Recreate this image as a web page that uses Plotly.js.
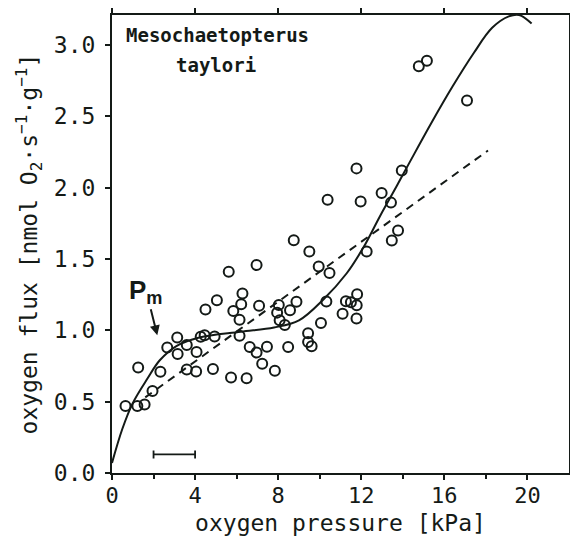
<!DOCTYPE html>
<html>
<head>
<meta charset="utf-8">
<script src="https://cdn.plot.ly/plotly-3.0.1.min.js"></script>
<style>html,body{margin:0;padding:0;background:#fff;}#chart{width:570px;height:536px;}</style>
</head>
<body>
<div id="chart"></div>
<script>
// measured points: oxygen pressure [kPa] and oxygen flux
const pressure = [0.65,1.22,1.57,1.26,1.95,2.33,2.66,3.14,3.16,3.6,3.6,4.05,4.07,4.27,4.46,4.5,4.94,4.86,5.05,5.62,5.73,5.84,6.14,6.22,6.28,6.14,6.48,6.63,6.96,7.08,6.96,7.23,7.46,7.84,7.95,8.03,8.07,8.32,8.48,8.57,8.75,8.88,9.5,9.44,9.44,9.61,9.95,10.06,10.32,10.47,10.38,11.1,11.26,11.5,11.8,11.78,11.77,11.77,11.97,12.26,12.98,13.43,13.47,13.77,13.95,14.77,15.16,17.09];
const flux = [0.47,0.47,0.48,0.74,0.575,0.71,0.88,0.95,0.834,0.897,0.725,0.712,0.848,0.955,0.966,1.146,0.956,0.729,1.21,1.41,0.67,1.135,1.074,1.183,1.258,0.962,0.664,0.883,1.458,1.172,0.845,0.765,0.885,0.717,1.124,1.178,1.07,1.037,0.883,1.14,1.632,1.2,1.552,0.979,0.918,0.888,1.447,1.052,1.202,1.401,1.915,1.116,1.203,1.197,1.253,1.175,1.083,2.135,1.903,1.552,1.963,1.895,1.63,1.70,2.12,2.85,2.89,2.61];

// fitted curve (solid)
const curveX = [0,0.5,1.0,1.7,2.3,3.1,4.2,6.2,7.8,9.0,10.2,11.3,12.1,12.9,13.7,14.3,15.4,16.4,17.4,18.3,19.1,19.6,20.2];
const curveY = [0.07,0.31,0.49,0.66,0.79,0.89,0.95,0.99,1.02,1.07,1.22,1.40,1.58,1.80,2.01,2.17,2.46,2.71,2.94,3.12,3.20,3.21,3.15];

// linear regression (dashed)
const dashX = [1.6,18.1];
const dashY = [0.53,2.26];

// horizontal bar (2-4 kPa)
const barCenter = [3];
const barHalf = [1];
const barY = [0.13];

// tick labels
const xTicks = [0,4,8,12,16,20];
const xTickText = ['0','4','8','12','16','20'];
const yTicks = [0,0.5,1.0,1.5,2.0,2.5,3.0];
const yTickText = ['0.0','0.5','1.0','1.5','2.0','2.5','3.0'];

const ink = '#141a17';

const traces = [
  {x: curveX, y: curveY, mode: 'lines', line: {color: ink, width: 2, shape: 'spline', smoothing: 1}, hoverinfo: 'skip', showlegend: false},
  {x: dashX, y: dashY, mode: 'lines', line: {color: ink, width: 2, dash: '8px,6px'}, hoverinfo: 'skip', showlegend: false},
  {x: pressure, y: flux, mode: 'markers', marker: {symbol: 'circle-open', size: 10, color: ink, line: {width: 2, color: ink}}, showlegend: false},
  {x: barCenter, y: barY, xaxis: 'x2', mode: 'markers', marker: {size: 1, color: 'rgba(0,0,0,0)'},
   error_x: {type: 'data', array: barHalf, symmetric: true, color: ink, thickness: 1.8, width: 4}, showlegend: false, hoverinfo: 'skip'}
];

const layout = {
  width: 570, height: 536,
  margin: {l: 112, r: 1, t: 15, b: 63},
  paper_bgcolor: '#fff', plot_bgcolor: '#fff',
  showlegend: false,
  font: {family: 'DejaVu Sans Mono', color: ink},
  xaxis: {
    range: [0, 22], tickvals: xTicks, ticktext: xTickText,
    ticks: 'outside', ticklen: 5, tickwidth: 2, tickcolor: ink,
    minor: {tickvals: [2,6,10,14,18], ticks: 'outside', ticklen: 4, tickwidth: 2, tickcolor: ink},
    showline: true, linewidth: 2, linecolor: ink, mirror: true,
    showgrid: false, zeroline: false,
    ticklabelstandoff: -3,
    tickfont: {family: 'DejaVu Sans Mono', size: 22, color: ink},
    title: {text: 'oxygen pressure [kPa]', font: {family: 'DejaVu Sans Mono', size: 23, color: ink}, standoff: 8}
  },
  xaxis2: {
    overlaying: 'x', side: 'top', anchor: 'y', range: [0, 22],
    tickvals: xTicks, showticklabels: false,
    ticks: 'outside', ticklen: 6, tickwidth: 2, tickcolor: ink,
    showline: false, showgrid: false, zeroline: false
  },
  yaxis: {
    range: [0, 3.21], tickvals: yTicks, ticktext: yTickText,
    ticks: 'outside', ticklen: 5, tickwidth: 2, tickcolor: ink,
    showline: true, linewidth: 2, linecolor: ink, mirror: true,
    showgrid: false, zeroline: false,
    ticklabelstandoff: 5,
    tickfont: {family: 'DejaVu Sans Mono', size: 23, color: ink},
    title: {text: 'oxygen flux [nmol O<sub>2</sub>·s<sup>−1</sup>·g<sup>−1</sup>]', font: {family: 'DejaVu Sans Mono', size: 23, color: ink}, standoff: 10}
  },
  annotations: [
    {x: 0.6, y: 3.07, xref: 'x', yref: 'y', xanchor: 'left', yanchor: 'middle', showarrow: false,
     text: '<b>Mesochaetopterus</b>', font: {family: 'DejaVu Sans Mono', size: 19, color: ink}},
    {x: 2.98, y: 2.86, xref: 'x', yref: 'y', xanchor: 'left', yanchor: 'middle', showarrow: false,
     text: '<b>taylori</b>', font: {family: 'DejaVu Sans Mono', size: 19, color: ink}},
    {x: 2.18, y: 0.965, xref: 'x', yref: 'y', ax: -11, ay: -44, showarrow: true,
     arrowhead: 2, arrowsize: 1, arrowwidth: 2, arrowcolor: ink,
     text: '<b>P<sub>m</sub></b>', font: {family: 'Liberation Sans', size: 26, color: ink}}
  ]
};

Plotly.newPlot('chart', traces, layout, {staticPlot: true, displayModeBar: false});
</script>
</body>
</html>
